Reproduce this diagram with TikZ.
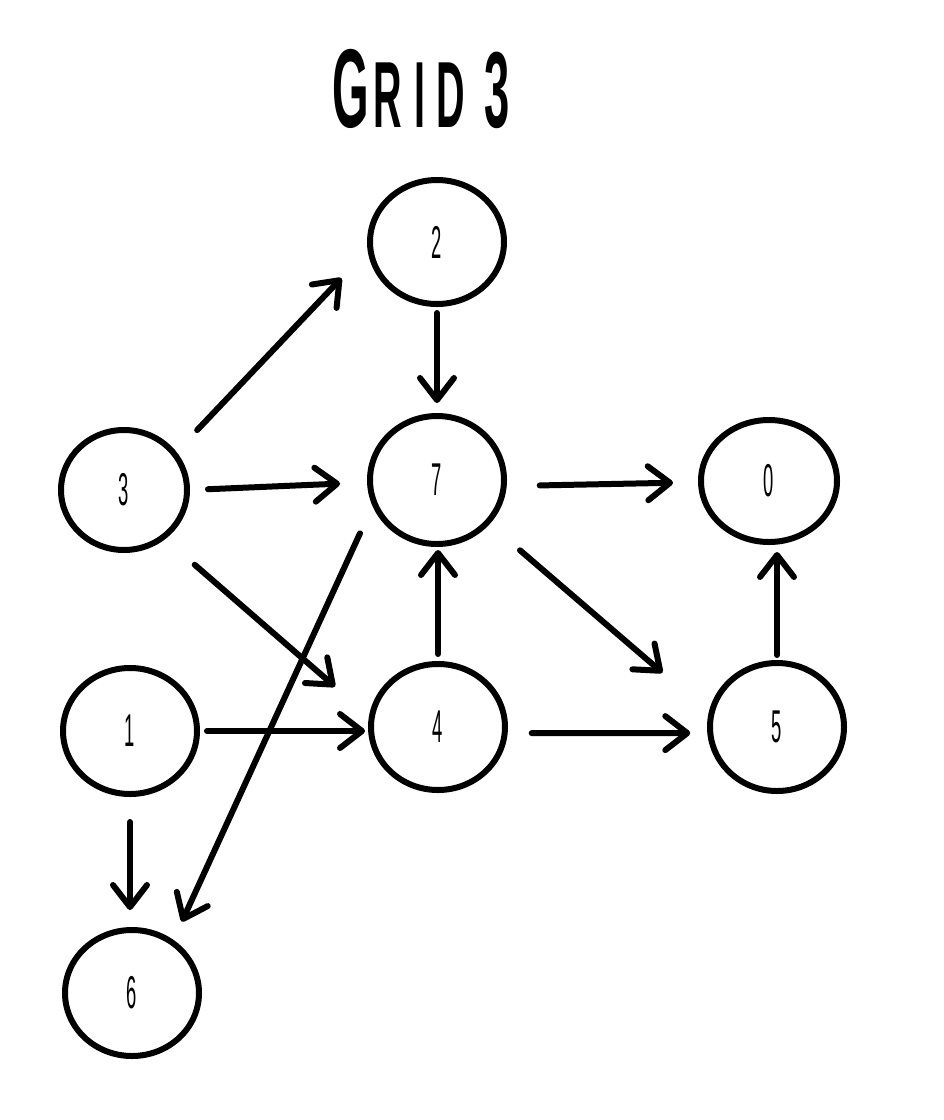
\documentclass[tikz,border=0pt]{standalone}
\usepackage{fontspec}
\setmainfont{Liberation Sans}
\usetikzlibrary{arrows.meta,shapes.geometric}
% narrow, tall vertex labels
\newcommand\vlabel[1]{\raisebox{-10pt}{\scalebox{0.4}[1]{\fontsize{46}{46}\selectfont #1}}}
\begin{document}
\begin{tikzpicture}[x=1pt,y=-1pt,
  vert/.style={ellipse, draw, line width=6pt, inner sep=0pt},
  edge/.style={line width=6pt, line cap=round,
    -{Straight Barb[length=22pt,width=34pt,line cap=round,line join=round]}}]
\useasboundingbox (0,0) rectangle (944,1120);

% title
\node[anchor=base, inner sep=0pt] (title) at (421,127)
  {\scalebox{0.42}[1]{\bfseries\fontsize{112}{112}\selectfont G\hspace{10pt}\fontsize{94}{94}\selectfont R\hspace{30pt}I\hspace{26pt}D\hspace{46pt}\fontsize{108}{108}\selectfont 3}};

% vertices
\node[vert, minimum width=134pt, minimum height=124pt] (n2) at (437,242) {\vlabel{2}};
\node[vert, minimum width=134pt, minimum height=128pt] (n7) at (437,480) {\vlabel{7}};
\node[vert, minimum width=136pt, minimum height=122pt] (n0) at (769,481) {\vlabel{0}};
\node[vert, minimum width=126pt, minimum height=120pt] (n3) at (124,490) {\vlabel{3}};
\node[vert, minimum width=134pt, minimum height=126pt] (n1) at (130,731) {\vlabel{1}};
\node[vert, minimum width=134pt, minimum height=126pt] (n4) at (438,727) {\vlabel{4}};
\node[vert, minimum width=134pt, minimum height=128pt] (n5) at (777,727) {\vlabel{5}};
\node[vert, minimum width=134pt, minimum height=126pt] (n6) at (132,993) {\vlabel{6}};

% edges
\draw[edge, shorten <=30pt, shorten >=38pt] (n3.36) -- (n2.187);
\draw[edge, shorten <=6pt, shorten >=10pt] (n2.south) -- (n7.north);
\draw[edge, shorten <=18pt, shorten >=27pt] (n3.0) -- (n7.182);
\draw[edge, shorten <=39pt, shorten >=45pt] (n3.310) -- (n4.171);
\draw[edge, shorten <=30pt, shorten >=20pt] (n7.202) -- (n6.52);
\draw[edge, shorten <=33pt, shorten >=25pt] (n7.355) -- (n0.181);
\draw[edge, shorten <=40pt, shorten >=61pt] (n7.320) -- (n5.168);
\draw[edge, shorten <=7pt, shorten >=3pt] (n4.north) -- (n4.north |- n7.south);
\draw[edge, shorten <=7pt, shorten >=3pt] (n1.east) -- (n1.east -| n4.west);
\draw[edge, shorten <=24pt, shorten >=17pt] (n4.355) -- (n5.185);
\draw[edge, shorten <=5pt, shorten >=7pt] (n5.north) -- (n5.north |- n0.south);
\draw[edge, shorten <=25pt, shorten >=17pt] (n1.south) -- (n1.south |- n6.north);
\end{tikzpicture}
\end{document}
